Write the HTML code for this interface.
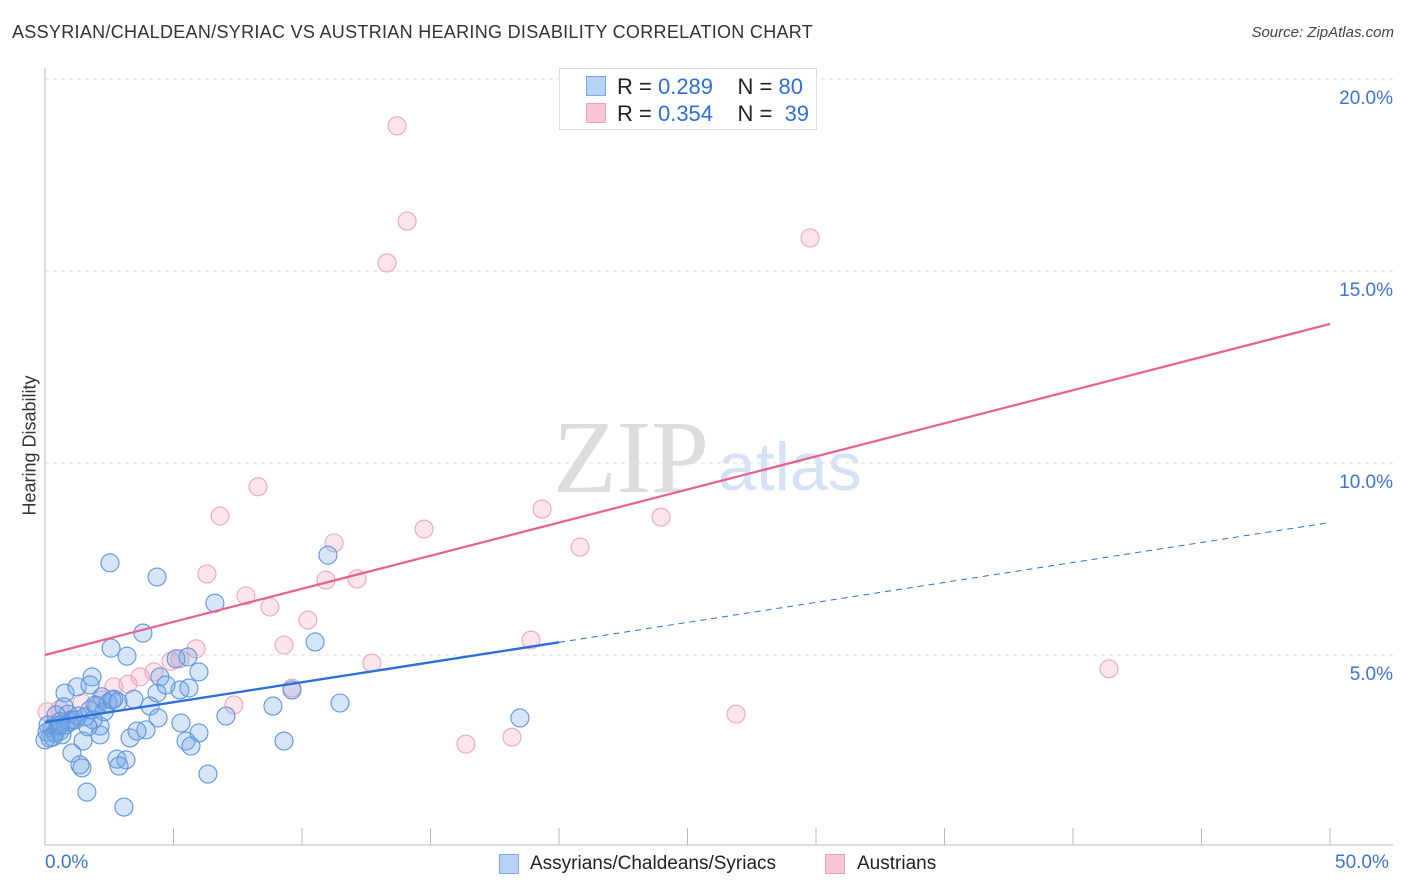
<!DOCTYPE html>
<html><head><meta charset="utf-8">
<style>
body{margin:0;background:#fff;font-family:"Liberation Sans",sans-serif;}
#wrap{position:relative;width:1406px;height:892px;overflow:hidden;}
.t{position:absolute;white-space:nowrap;}
</style></head>
<body>
<div id="wrap">
<div class="t" style="left:12px;top:22px;font-size:18px;color:#333;letter-spacing:0.3px;">ASSYRIAN/CHALDEAN/SYRIAC VS AUSTRIAN HEARING DISABILITY CORRELATION CHART</div>
<div class="t" style="right:12px;top:24px;font-size:15px;color:#444;font-style:italic;">Source: ZipAtlas.com</div>
<div class="t" style="left:-30px;top:445px;font-size:18px;color:#333;transform:rotate(-90deg);transform-origin:center;width:120px;text-align:center;">Hearing Disability</div>
<svg id="svg" width="1406" height="892" style="position:absolute;left:0;top:0;"></svg>
<div style="position:absolute;left:559px;top:68px;width:258px;height:62px;border:1px solid #ddd;background:rgba(255,255,255,0.9);box-sizing:border-box;">
 <div style="position:absolute;left:26px;top:7px;width:20px;height:20px;background:#b8d2f5;border:1px solid #7aa8e8;box-sizing:border-box;"></div>
 <div class="t" style="left:57px;top:5px;font-size:22px;color:#222;">R = <span style="color:#2d6fd6">0.289</span>&nbsp;&nbsp;&nbsp; N = <span style="color:#2d6fd6">80</span></div>
 <div style="position:absolute;left:26px;top:34px;width:20px;height:20px;background:#f9c6d6;border:1px solid #eea0b8;box-sizing:border-box;"></div>
 <div class="t" style="left:57px;top:32px;font-size:22px;color:#222;">R = <span style="color:#2d6fd6">0.354</span>&nbsp;&nbsp;&nbsp; N = &nbsp;<span style="color:#2d6fd6">39</span></div>
</div>
<div class="t" style="left:45px;top:852px;font-size:19px;color:#3b74d0;">0.0%</div>
<div class="t" style="left:1335px;top:852px;font-size:19px;color:#3b74d0;">50.0%</div>
<div style="position:absolute;left:499px;top:854px;width:20px;height:20px;background:#b8d2f5;border:1px solid #7aa8e8;box-sizing:border-box;"></div>
<div class="t" style="left:530px;top:853px;font-size:19px;color:#222;">Assyrians/Chaldeans/Syriacs</div>
<div style="position:absolute;left:825px;top:854px;width:20px;height:20px;background:#f9c6d6;border:1px solid #eea0b8;box-sizing:border-box;"></div>
<div class="t" style="left:857px;top:853px;font-size:19px;color:#222;">Austrians</div>
</div>
<script>
const yTicks=[5,10,15,20];
const yTickLabels=["5.0%","10.0%","15.0%","20.0%"];
const blueX=[2.53,4.36,6.61,3.81,11.01,2.57,3.19,10.51,5.99,1.83,4.47,5.56,5.10,0.78,1.25,1.75,2.22,2.68,3.46,4.36,5.25,5.60,4.71,9.61,11.48,8.87,4.09,4.40,5.29,7.04,5.99,5.49,5.68,3.31,3.93,3.58,2.02,1.56,2.14,1.48,1.05,1.36,1.44,2.80,3.15,2.88,1.63,3.07,6.34,9.30,18.48,0.74,0.89,1.05,0.19,0.08,0.27,0.39,0.51,0.58,0.66,0.82,0.97,1.17,1.28,1.75,1.95,2.30,2.45,2.61,2.84,0.43,0.12,0.31,0.58,2.14,1.87,1.67,0.58,0.00];
const blueY=[7.40,7.03,6.35,5.57,7.60,5.18,4.97,5.34,4.56,4.43,4.43,4.95,4.90,4.01,4.17,4.22,3.91,3.85,3.85,4.01,4.09,4.14,4.22,4.09,3.75,3.67,3.67,3.36,3.23,3.41,2.97,2.76,2.63,2.84,3.05,3.02,3.67,3.39,3.15,2.76,2.45,2.14,2.06,2.29,2.27,2.11,1.43,1.04,1.90,2.76,3.36,3.65,3.46,3.31,2.84,2.99,3.10,2.97,3.13,3.02,2.92,3.18,3.26,3.31,3.41,3.57,3.70,3.52,3.75,3.83,3.78,3.44,3.18,2.86,3.26,2.92,3.31,3.13,3.18,2.79];
const pinkX=[13.70,14.09,13.31,29.77,8.29,6.81,14.75,19.34,23.97,20.82,11.25,6.30,10.93,12.14,7.82,8.75,10.23,9.30,18.91,5.88,5.25,4.90,4.24,3.70,3.23,2.68,12.72,9.61,7.35,2.22,0.58,0.08,41.40,26.89,16.38,18.17,0.97,1.44,0.35];
const pinkY=[18.78,16.30,15.21,15.86,9.38,8.62,8.28,8.80,8.59,7.81,7.92,7.11,6.95,6.98,6.54,6.25,5.91,5.26,5.39,5.16,4.90,4.84,4.56,4.43,4.24,4.17,4.79,4.14,3.70,3.83,3.59,3.52,4.64,3.46,2.68,2.86,3.31,3.75,3.18];
const blueTrend=[3.25,0.104]; // intercept, slope
const pinkTrend=[5.0,0.1724];
const blueSolidEnd=20;

const NS="http://www.w3.org/2000/svg";
const svg=document.getElementById('svg');
const X=v=>45+v*25.7;
const Y=v=>847-v*38.4;
function mk(tag,attrs,parent){const e=document.createElementNS(NS,tag);for(const k in attrs)e.setAttribute(k,attrs[k]);(parent||svg).appendChild(e);return e;}
let wm=mk('text',{x:553,y:492,'font-family':'Liberation Serif,serif','font-size':104,fill:'#ddd'});


wm.textContent='ZIP';
let wm2=mk('text',{x:718,y:490,'font-family':'Liberation Sans,sans-serif','font-size':68,fill:'#d6e3f5'});


wm2.textContent='atlas';
yTicks.forEach((t,i)=>{
 const g=mk('line',{x1:45,x2:1393,y1:Y(t),y2:Y(t),stroke:'#ddd','stroke-dasharray':'4,4'});
 
 
 const l=mk('text',{x:1393,y:Y(t)+25,'text-anchor':'end','font-size':19,fill:'#3b74d0','font-family':'Liberation Sans,sans-serif'});
 
 
 l.textContent=yTickLabels[i];
});
let ax=mk('line',{x1:45,x2:1393,y1:845,y2:845,stroke:'#bbb'});


let ay=mk('line',{x1:45,x2:45,y1:68,y2:845,stroke:'#bbb'});


for(let i=0;i<=10;i++){
 const tk=mk('line',{x1:X(i*5),x2:X(i*5),y1:828,y2:845,stroke:'#bbb'});
 
 
}
function pts(xs,ys,fill,stroke,name){
 xs.forEach((x,i)=>{
  const c=mk('circle',{cx:X(x),cy:Y(ys[i]),r:9,fill:fill,stroke:stroke,'stroke-width':1.1});
  
  
 });
}
pts(pinkX,pinkY,'rgba(244,160,188,0.28)','#efa6be','austrian-point');
pts(blueX,blueY,'rgba(120,168,232,0.3)','#5f95dc','assyrian-point');
let pl=mk('line',{x1:X(0),y1:Y(pinkTrend[0]),x2:X(50),y2:Y(pinkTrend[0]+pinkTrend[1]*50),stroke:'#e8608e','stroke-width':2.2});


let bl=mk('line',{x1:X(0),y1:Y(blueTrend[0]),x2:X(blueSolidEnd),y2:Y(blueTrend[0]+blueTrend[1]*blueSolidEnd),stroke:'#2d6fd6','stroke-width':2.4});


let bd=mk('line',{x1:X(blueSolidEnd),y1:Y(blueTrend[0]+blueTrend[1]*blueSolidEnd),x2:X(50),y2:Y(blueTrend[0]+blueTrend[1]*50),stroke:'#2d6fd6','stroke-width':1,'stroke-dasharray':'6,5'});


</script>
</body></html>
